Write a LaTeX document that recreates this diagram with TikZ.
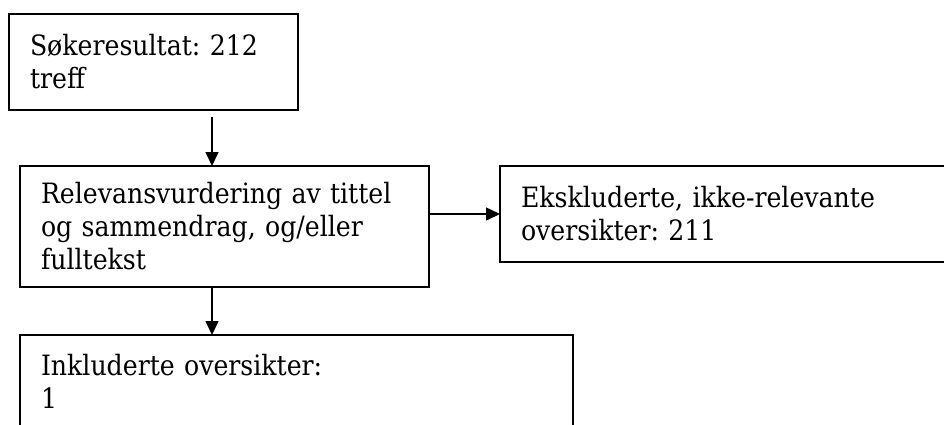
\documentclass[tikz,border=0pt]{standalone}
\usepackage{fontspec}
\IfFontExistsTF{DejaVu Serif Condensed}
  {\setmainfont{DejaVu Serif Condensed}\newcommand\boxsize{\fontsize{28}{33}\selectfont}}
  {\setmainfont{Liberation Serif}\newcommand\boxsize{\fontsize{32}{33}\selectfont}}
\usetikzlibrary{positioning, arrows.meta}
\tikzset{
  box/.style={draw, line width=1.5pt, outer sep=0pt, inner xsep=21pt, inner ysep=0pt, align=left, font=\boxsize, anchor=north west},
  arr/.style={-{Triangle[length=14pt, width=13pt]}, line width=1.5pt},
}
\frenchspacing

\begin{document}
\begin{tikzpicture}[x=1pt, y=-1pt]
\useasboundingbox (0,0) rectangle (944,424);
\node[box, line width=2pt, minimum width=289pt, minimum height=96pt, text width=247pt] (hits) at (9,14) {Søkeresultat: 212\\treff};
\node[box, minimum width=409pt, minimum height=121pt, text width=367pt] (rel) at (20,166) {Relevansvurdering av tittel\\og sammendrag, og/eller\\fulltekst};
\node[box, right=71pt of rel.north east, anchor=north west, minimum width=460pt, minimum height=96pt, text width=418pt] (excl) {Ekskluderte, ikke-relevante\\oversikter: 211};
\node[box, below=48pt of rel.south west, anchor=north west, minimum width=553pt, minimum height=92pt, text width=511pt] (incl) {Inkluderte oversikter:\\1};
% connectors
\coordinate (spine) at (212,0);
\draw[arr, shorten <=7pt] (hits.south -| spine) -- (rel.north -| spine);
\draw[arr] (rel.south -| spine) -- (incl.north -| spine);
\draw[arr] (rel.east |- excl.west) -- (excl.west);
\end{tikzpicture}
\end{document}
